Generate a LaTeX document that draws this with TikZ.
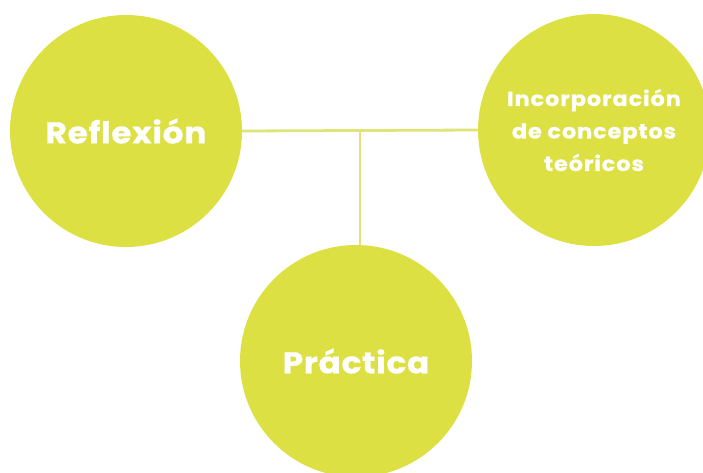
\documentclass[tikz,border=0pt]{standalone}
\usepackage{fontspec}
\setmainfont{Poppins}[UprightFont=* Bold, BoldFont=* Bold]
\newfontfamily\bigfont{Poppins Bold}[LetterSpace=2, FakeStretch=1.1, FakeBold=0.6]
\newfontfamily\smallfont{Poppins Bold}[LetterSpace=4, FakeStretch=1.1, FakeBold=0.5]
\definecolor{lime}{RGB}{221,224,66}
\definecolor{limeline}{RGB}{222,228,120}
\begin{document}
\begin{tikzpicture}[x=1pt,y=-1pt,
  bubble/.style={circle, fill=lime, minimum size=232pt, inner sep=0pt, text=white, align=center},
  link/.style={draw=limeline, line width=2.8pt}]
\useasboundingbox (0,0) rectangle (703,473);
\node[bubble, font=\bigfont\fontsize{30}{34}\selectfont] (refl) at (126,131) {Reflexión};
\node[bubble, font=\smallfont\fontsize{20.5}{32.5}\selectfont] (teo) at (594,130) {Incorporación\\de conceptos\\teóricos};
\node[bubble, font=\bigfont\fontsize{30}{34}\selectfont] (prac) at (356,361) {Práctica};
\coordinate (j) at (360,132);
\draw[link] (refl.east) -- (teo.west);
\draw[link] (j) -- (j |- prac.north);
\end{tikzpicture}
\end{document}
